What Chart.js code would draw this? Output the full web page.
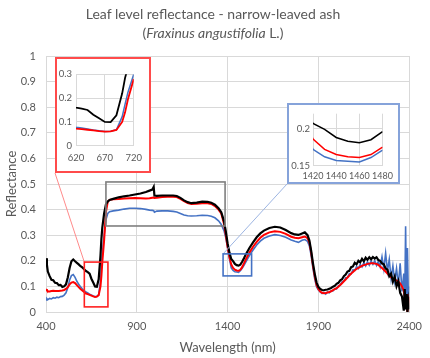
<!DOCTYPE html>
<html><head><meta charset="utf-8">
<script src="https://cdn.jsdelivr.net/npm/chart.js@4"></script>
<style>
html,body{margin:0;padding:0;background:#fff;}
#wrap{position:relative;width:430px;height:358px;overflow:hidden;font-family:Lato,'Open Sans',sans-serif;}
#main{position:absolute;left:0;top:0;}
#title{position:absolute;left:0;top:4px;width:426px;text-align:center;color:#595959;font-size:14px;line-height:19px;}
.inset{position:absolute;box-sizing:border-box;background:#fff;}
#insetRed{left:55px;top:57px;width:96px;height:116px;border:2px solid #FF4B4B;}
#insetBlue{left:287px;top:103px;width:113px;height:81px;border:2px solid #86A3DA;}
.inset canvas{position:absolute;left:0;top:0;}
</style>
</head><body>
<div id="wrap">
  <canvas id="main" width="430" height="358"></canvas>
  <div id="title">Leaf level reflectance - narrow-leaved ash<br>(<i>Fraxinus angustifolia</i> L.)</div>
  <div class="inset" id="insetRed"><canvas id="cRed" width="92" height="112"></canvas></div>
  <div class="inset" id="insetBlue"><canvas id="cBlue" width="109" height="77"></canvas></div>
</div>
<script>
// ---- data (wavelength in nm, reflectance) ----
const wavelengths = [400,405,410,420,430,440,450,460,470,480,490,500,510,520,530,540,550,560,570,580,590,600,610,620,630,640,650,660,670,680,690,700,705,710,720,730,740,750,770,800,830,860,890,920,950,970,985,993,997,1010,1040,1070,1100,1120,1140,1160,1180,1200,1230,1260,1290,1310,1330,1350,1365,1380,1390,1400,1410,1420,1430,1440,1450,1460,1470,1480,1490,1500,1520,1540,1560,1580,1600,1630,1660,1690,1720,1750,1770,1790,1810,1825,1840,1850,1860,1870,1880,1890,1900,1910,1920,1930,1940,1950,1960,1970,1980,1990,2000,2010,2020,2030,2040,2050,2060,2070,2080,2090,2100,2110,2120,2130,2140,2150,2160,2170,2180,2190,2200,2210,2220,2230,2240,2250,2260,2270,2280,2290,2300,2310,2320,2330,2340,2350,2360,2370,2375,2380,2385,2390,2395,2400];
const blackSeries = [0.210,0.185,0.158,0.140,0.126,0.124,0.114,0.113,0.105,0.106,0.098,0.100,0.108,0.135,0.172,0.198,0.205,0.198,0.192,0.186,0.179,0.174,0.167,0.160,0.156,0.150,0.130,0.115,0.100,0.099,0.128,0.220,0.285,0.330,0.385,0.420,0.432,0.438,0.442,0.448,0.452,0.455,0.459,0.463,0.469,0.474,0.478,0.489,0.455,0.454,0.455,0.455,0.455,0.453,0.446,0.436,0.429,0.425,0.427,0.431,0.430,0.427,0.419,0.405,0.390,0.355,0.315,0.268,0.232,0.207,0.199,0.188,0.183,0.181,0.185,0.196,0.210,0.225,0.250,0.272,0.292,0.307,0.318,0.328,0.333,0.330,0.320,0.308,0.303,0.301,0.307,0.311,0.300,0.280,0.240,0.190,0.148,0.115,0.098,0.090,0.086,0.085,0.087,0.088,0.091,0.094,0.099,0.102,0.110,0.114,0.124,0.128,0.140,0.146,0.158,0.161,0.175,0.178,0.192,0.186,0.200,0.194,0.208,0.198,0.212,0.204,0.214,0.206,0.215,0.209,0.214,0.203,0.200,0.190,0.186,0.170,0.165,0.140,0.150,0.118,0.138,0.100,0.120,0.075,0.060,0.005,0.090,0.010,0.070,0.000,0.040,0.010];
const redSeries = [0.090,0.085,0.081,0.080,0.082,0.083,0.082,0.082,0.082,0.083,0.084,0.086,0.090,0.097,0.108,0.115,0.117,0.113,0.105,0.097,0.090,0.084,0.078,0.072,0.070,0.067,0.064,0.061,0.059,0.060,0.066,0.100,0.140,0.195,0.280,0.390,0.430,0.438,0.440,0.441,0.443,0.444,0.445,0.444,0.443,0.444,0.446,0.447,0.445,0.446,0.449,0.450,0.450,0.449,0.442,0.433,0.426,0.422,0.423,0.425,0.425,0.422,0.414,0.400,0.385,0.345,0.300,0.255,0.215,0.186,0.172,0.165,0.162,0.161,0.165,0.175,0.190,0.205,0.232,0.255,0.274,0.290,0.301,0.311,0.315,0.313,0.305,0.294,0.290,0.288,0.292,0.295,0.288,0.272,0.232,0.180,0.138,0.105,0.090,0.080,0.075,0.073,0.074,0.076,0.078,0.081,0.085,0.089,0.093,0.099,0.106,0.112,0.120,0.127,0.135,0.142,0.150,0.156,0.163,0.168,0.172,0.176,0.180,0.183,0.185,0.188,0.189,0.190,0.190,0.189,0.188,0.184,0.178,0.172,0.165,0.158,0.150,0.142,0.136,0.130,0.127,0.123,0.118,0.112,0.100,0.085,0.060,0.040,0.020,0.070,0.030,0.060];
const blueSeries = [0.047,0.052,0.048,0.053,0.051,0.056,0.054,0.058,0.056,0.060,0.061,0.066,0.075,0.095,0.125,0.142,0.146,0.135,0.120,0.108,0.099,0.091,0.084,0.078,0.074,0.070,0.066,0.063,0.060,0.061,0.067,0.122,0.175,0.225,0.300,0.360,0.385,0.392,0.395,0.398,0.402,0.405,0.405,0.404,0.401,0.398,0.397,0.396,0.390,0.394,0.395,0.395,0.393,0.391,0.385,0.379,0.376,0.375,0.376,0.378,0.377,0.374,0.368,0.356,0.342,0.318,0.290,0.250,0.208,0.172,0.162,0.157,0.156,0.155,0.161,0.171,0.182,0.195,0.220,0.242,0.262,0.277,0.288,0.297,0.302,0.299,0.292,0.281,0.276,0.272,0.280,0.283,0.276,0.258,0.220,0.170,0.128,0.098,0.086,0.078,0.072,0.076,0.070,0.078,0.075,0.083,0.082,0.091,0.090,0.103,0.104,0.118,0.120,0.134,0.134,0.150,0.149,0.165,0.162,0.178,0.170,0.186,0.176,0.192,0.180,0.196,0.183,0.199,0.186,0.200,0.182,0.198,0.176,0.215,0.168,0.230,0.160,0.205,0.130,0.180,0.120,0.170,0.105,0.190,0.080,0.150,0.020,0.335,0.010,0.250,0.060,0.100];
const seriesNames = ['Sample A','Sample B','Sample C'];
const seriesColors = ['#000000','#FF0000','#4472C4'];
const xTicksMain = [400,900,1400,1900,2400];
const yTicksRedInset = [0,0.1,0.2,0.3];
const xTicksRedInset = [620,670,720];
const yTicksBlueInset = [0.15,0.2];
const xTicksBlueInset = [1420,1440,1460,1480];
// zoom windows marked on the main chart (data units)
const zoomBoxes = [
  {x0:611,x1:741,y0:0.02,y1:0.195,color:'#FF2020',inset:'insetRed',link:'#FF8A8A'},
  {x0:730,x1:1386,y0:0.336,y1:0.508,color:'#7F7F7F'},
  {x0:1375,x1:1532,y0:0.141,y1:0.227,color:'#4472C4',inset:'insetBlue',link:'#9DB5E2'}
];

const FONT = 'Lato, "Open Sans", sans-serif';
const TXT = '#595959', GRID = '#D9D9D9';
const fmt = v => String(parseFloat(Number(v).toFixed(3)));
const fixTicks = list => (s => { s.ticks = list.map(v=>({value:v})); });
function toPts(arr){ return wavelengths.map((w,i)=>({x:w,y:arr[i]})); }
function makeDatasets(widths){
  return [blackSeries, redSeries, blueSeries].map((arr,i)=>({
    label: seriesNames[i], data: toPts(arr), borderColor: seriesColors[i],
    backgroundColor: seriesColors[i], borderWidth: widths[i], pointRadius: 0, tension: 0, fill:false
  }));
}
Chart.defaults.font.family = FONT;
Chart.defaults.color = TXT;

const boxPlugin = {
  id:'zoomBoxes',
  afterDatasetsDraw(chart){
    const {ctx, scales:{x,y}} = chart;
    const cr = chart.canvas.getBoundingClientRect();
    ctx.save();
    zoomBoxes.forEach(b=>{
      const l = x.getPixelForValue(b.x0), r = x.getPixelForValue(b.x1);
      const t = y.getPixelForValue(b.y1), bt = y.getPixelForValue(b.y0);
      if (b.inset){
        const ir = document.getElementById(b.inset).getBoundingClientRect();
        ctx.strokeStyle = b.link; ctx.lineWidth = 1;
        ctx.beginPath(); ctx.moveTo(ir.left-cr.left, ir.bottom-cr.top); ctx.lineTo(l, t); ctx.stroke();
      }
      ctx.strokeStyle = b.color; ctx.lineWidth = 1.6;
      ctx.strokeRect(l, t, r-l, bt-t);
    });
    ctx.restore();
  }
};

new Chart(document.getElementById('main'), {
  type:'line',
  data:{datasets: makeDatasets([2.2,2,1.6])},
  options:{
    responsive:false, animation:false, devicePixelRatio:1,
    layout:{padding:{top:56,right:16,left:0,bottom:0}},
    plugins:{legend:{display:false}, tooltip:{enabled:false}},
    scales:{
      x:{type:'linear', min:400, max:2400,
         afterBuildTicks: fixTicks(xTicksMain),
         grid:{color:GRID, drawTicks:false}, border:{color:GRID},
         ticks:{padding:8, font:{size:11}, color:TXT, maxRotation:0, autoSkip:false, callback:fmt},
         title:{display:true, text:'Wavelength (nm)', font:{size:13}, color:TXT, padding:{top:0,bottom:2}},
         afterFit:(s)=>{ s.height = 46; }},
      y:{min:0, max:1,
         grid:{color:GRID, drawTicks:false}, border:{display:false},
         ticks:{stepSize:0.1, padding:10, font:{size:11}, color:TXT, autoSkip:false, callback:fmt},
         title:{display:true, text:'Reflectance', font:{size:13}, color:TXT, padding:{top:4,bottom:0}},
         afterFit:(s)=>{ s.width = 46; }}
    }
  },
  plugins:[boxPlugin]
});

// inset 1: red-edge region
new Chart(document.getElementById('cRed'), {
  type:'line',
  data:{datasets: makeDatasets([1.8,1.8,1.5])},
  options:{
    responsive:false, animation:false, devicePixelRatio:1,
    layout:{padding:{top:15.3,right:11.7,left:0,bottom:0}},
    plugins:{legend:{display:false}, tooltip:{enabled:false}},
    scales:{
      x:{type:'linear', min:620, max:720,
         afterBuildTicks: fixTicks(xTicksRedInset),
         grid:{color:GRID, drawTicks:false}, border:{color:GRID},
         ticks:{padding:7, font:{size:9.5}, color:TXT, maxRotation:0, autoSkip:false, callback:fmt},
         afterFit:(s)=>{ s.height = 25.3; }},
      y:{min:0, max:0.3,
         afterBuildTicks: fixTicks(yTicksRedInset),
         grid:{color:GRID, drawTicks:false}, border:{display:false},
         ticks:{padding:4, font:{size:9.5}, color:TXT, autoSkip:false, callback:fmt},
         afterFit:(s)=>{ s.width = 19; }}
    }
  }
});

// inset 2: 1450 nm water absorption
new Chart(document.getElementById('cBlue'), {
  type:'line',
  data:{datasets: makeDatasets([1.5,1.5,1.5])},
  options:{
    responsive:false, animation:false, devicePixelRatio:1,
    layout:{padding:{top:8.3,right:13.5,left:0,bottom:0}},
    plugins:{legend:{display:false}, tooltip:{enabled:false}},
    scales:{
      x:{type:'linear', min:1420, max:1480,
         afterBuildTicks: fixTicks(xTicksBlueInset),
         grid:{color:GRID, drawTicks:false}, border:{color:GRID},
         ticks:{padding:5, font:{size:9}, color:TXT, maxRotation:0, autoSkip:false, callback:fmt},
         afterFit:(s)=>{ s.height = 16.3; }},
      y:{min:0.15, max:0.22,
         afterBuildTicks: fixTicks(yTicksBlueInset),
         grid:{color:GRID, drawTicks:false}, border:{display:false},
         ticks:{padding:3, font:{size:9.5}, color:TXT, autoSkip:false, callback:fmt},
         afterFit:(s)=>{ s.width = 24; }}
    }
  }
});
</script>
</body></html>
